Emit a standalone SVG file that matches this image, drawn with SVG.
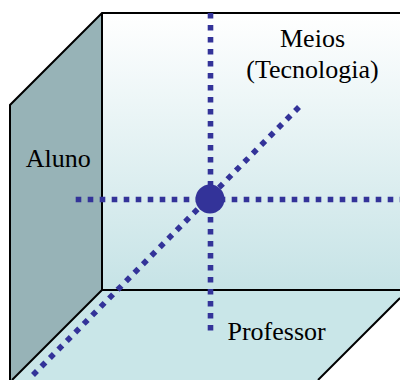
<svg xmlns="http://www.w3.org/2000/svg" width="400" height="380" viewBox="0 0 400 380">
  <defs>
    <linearGradient id="backGrad" x1="0" y1="13" x2="0" y2="290" gradientUnits="userSpaceOnUse">
      <stop offset="0" stop-color="#ffffff"/>
      <stop offset="1" stop-color="#c6e3e6"/>
    </linearGradient>
    <style>
      .edge { stroke: #000000; stroke-width: 2; fill: none; }
      .dots { stroke: #333399; stroke-width: 5.6; stroke-dasharray: 5.6 6.4; fill: none; stroke-linecap: butt; }
      .lbl { font-family: "Liberation Serif", "Times New Roman", serif; font-size: 26px; fill: #000000; }
    </style>
  </defs>
  <rect width="400" height="380" fill="#ffffff"/>
  <g id="back-wall">
    <rect x="102" y="13" width="298" height="277" fill="url(#backGrad)"/>
  </g>
  <g id="floor">
    <polygon points="102,290 400,290 400,298 318,380 12,380" fill="#c9e6e8"/>
  </g>
  <g id="left-wall">
    <polygon points="102,13 102,290 12,380 10,380 10,105" fill="#97b3b7"/>
  </g>
  <g id="edges">
    <polyline class="edge" points="400,13 102,13 10,105 10,380"/>
    <line class="edge" x1="102" y1="13" x2="102" y2="290"/>
    <line class="edge" x1="102" y1="290" x2="400" y2="290"/>
    <line class="edge" x1="102" y1="290" x2="12" y2="380"/>
    <line class="edge" x1="400" y1="298" x2="318" y2="380"/>
  </g>
  <g id="connectors">
    <line class="dots" x1="210.5" y1="13" x2="210.5" y2="331"/>
    <line class="dots" x1="75.7" y1="199.5" x2="400" y2="199.5"/>
    <line class="dots" x1="33" y1="375" x2="300" y2="106"/>
  </g>
  <g id="origin">
    <circle cx="210" cy="199" r="14.5" fill="#333399"/>
  </g>
  <g id="label-aluno">
    <text class="lbl" x="58.3" y="167" text-anchor="middle">Aluno</text>
  </g>
  <g id="label-meios">
    <text class="lbl" x="312.5" y="47" text-anchor="middle">Meios</text>
    <text class="lbl" x="312.5" y="77.5" text-anchor="middle">(Tecnologia)</text>
  </g>
  <g id="label-professor">
    <text class="lbl" x="227.5" y="340">Professor</text>
  </g>
</svg>
